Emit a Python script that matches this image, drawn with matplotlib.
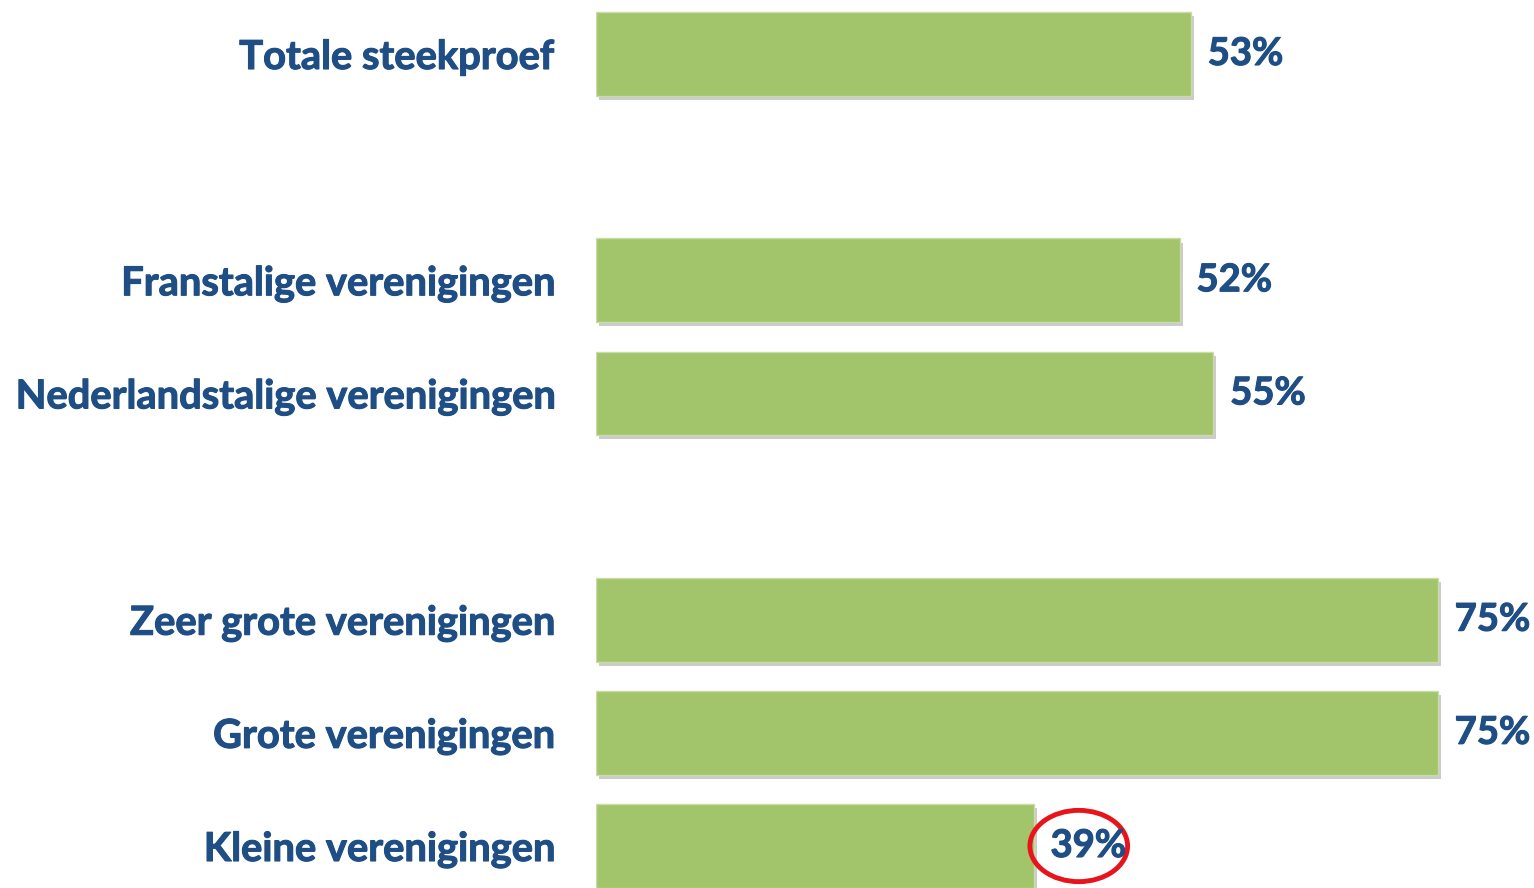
import matplotlib.pyplot as plt
import matplotlib.patheffects as pe
from matplotlib.patches import Ellipse

# data
categories = [
    "Totale steekproef",
    "Franstalige verenigingen",
    "Nederlandstalige verenigingen",
    "Zeer grote verenigingen",
    "Grote verenigingen",
    "Kleine verenigingen",
]
values = [53, 52, 55, 75, 75, 39]
slots = [0, 2, 3, 5, 6, 7]  # empty rows separate the groups
highlight = "Kleine verenigingen"

bar_color = "#a2c46b"
text_color = "#1f4e85"

plt.rcParams["font.family"] = ["Lato", "DejaVu Sans"]

fig = plt.figure(figsize=(15.34, 8.88), dpi=100)
ax = fig.add_axes([596 / 1534, 0, 1 - 596 / 1534, 1])

bars = ax.barh(slots, values, height=0.74, color=bar_color,
               edgecolor="#c9dca6", linewidth=1.0)
for b in bars:
    b.set_path_effects([
        pe.SimplePatchShadow(offset=(2, -3), shadow_rgbFace="#999999", alpha=0.5),
        pe.Normal(),
    ])

# thin stroke to make the text look heavier, like the original
heavy = [pe.withStroke(linewidth=0.8, foreground=text_color)]

for s, v, name in zip(slots, values, categories):
    ax.annotate(f"{v}%", xy=(v, s), xytext=(12, 0), textcoords="offset points",
                va="center", ha="left", fontsize=27.5, fontweight="bold",
                color=text_color, path_effects=heavy)
    if name == highlight:
        ax.add_patch(Ellipse((v + 4.0, s), 8.7, 0.63, fill=False,
                             edgecolor="#e8141b", linewidth=3.5, clip_on=False))

ax.set_yticks(slots)
ax.set_yticklabels(categories, fontsize=28.7, fontweight="bold", color=text_color)
for t in ax.get_yticklabels():
    t.set_path_effects(heavy)
ax.tick_params(axis="y", length=0, pad=30)
ax.set_xticks([])

ax.set_xlim(0, 75 * (1534 - 596) / 842)
ax.set_ylim(7 + 42 / 113.14, -54 / 113.14)

for sp in ax.spines.values():
    sp.set_visible(False)

fig.savefig("out.png", dpi=100)
